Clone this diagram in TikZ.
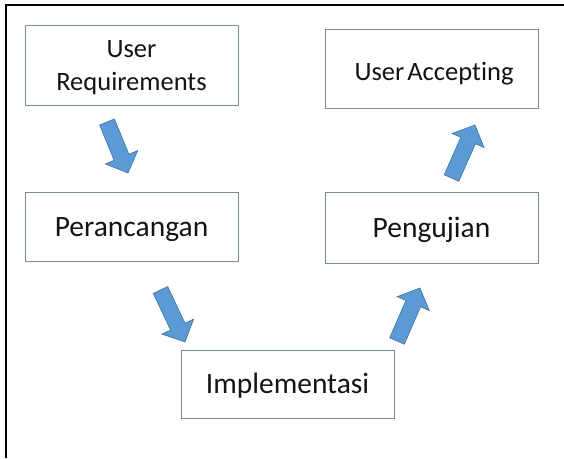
\documentclass[tikz,border=0pt]{standalone}
\usepackage{fontspec}
\setmainfont{Carlito}[Ligatures=NoCommon]
\usetikzlibrary{calc}

\definecolor{boxline}{RGB}{125,140,160}
\definecolor{arrowfill}{RGB}{91,155,213}
\definecolor{arrowline}{RGB}{65,113,156}
\definecolor{inktext}{RGB}{20,20,20}

% Block arrow from a tail coordinate #1 to a tip coordinate #2
\newcommand\blockarrow[2]{%
  \filldraw[fill=arrowfill, draw=arrowline, line width=0.6pt, line join=miter]
    ($(#1)!8pt!-90:(#2)$)
    -- ($($(#2)!17pt!(#1)$)!8pt!-90:(#2)$)
    -- ($($(#2)!17pt!(#1)$)!17.5pt!-90:(#2)$)
    -- (#2)
    -- ($($(#2)!17pt!(#1)$)!17.5pt!90:(#2)$)
    -- ($($(#2)!17pt!(#1)$)!8pt!90:(#2)$)
    -- ($(#1)!8pt!90:(#2)$)
    -- cycle;}

\tikzset{
  stagebox/.style={draw=boxline, line width=1pt, fill=white, inner sep=0pt,
    minimum width=213pt, align=center, text=inktext},
  bigtext/.style={font=\fontsize{29.5}{35}\selectfont, text height=19pt, text depth=0pt},
  smalltext/.style={font=\fontsize{26.5}{33}\selectfont},
}

\begin{document}
\begin{tikzpicture}[x=1pt, y=-1pt]
  \useasboundingbox (0,0) rectangle (564,458);
  \fill[white] (0,0) rectangle (564,458);

  % outer frame
  \draw[black, line width=2pt] (6,458) -- (6,5) -- (564,5);

  % stages
  \node[stagebox, smalltext, minimum height=80pt, text height=50.5pt, text depth=0pt]
    (ur) at (131.5,65) {User\\Requirements};
  \node[stagebox, bigtext, minimum height=69pt] (per) at (131.5,226.5) {Perancangan};
  \node[stagebox, bigtext, minimum height=68pt] (imp) at (287.5,384) {Implementasi};
  \node[stagebox, bigtext, minimum height=71pt] (pen) at (431.5,227.5) {Pengujian};
  \node[stagebox, minimum height=79pt] (ua) at (431.5,68.5) {};
  \node[font=\fontsize{26.5}{31}\selectfont, text=inktext, inner sep=0pt,
    anchor=base] (uat) at (434,80) {User\hspace{-3pt} Accepting};

  % arrow ends
  \coordinate (a1s) at (107,122);   \coordinate (a1e) at (128,173);
  \coordinate (a2s) at (160.5,290); \coordinate (a2e) at (185,342);
  \coordinate (a3s) at (397,341);   \coordinate (a3e) at (420,288);
  \coordinate (a4s) at (451.5,178); \coordinate (a4e) at (475,125);

  \blockarrow{a1s}{a1e}
  \blockarrow{a2s}{a2e}
  \blockarrow{a3s}{a3e}
  \blockarrow{a4s}{a4e}
\end{tikzpicture}
\end{document}
